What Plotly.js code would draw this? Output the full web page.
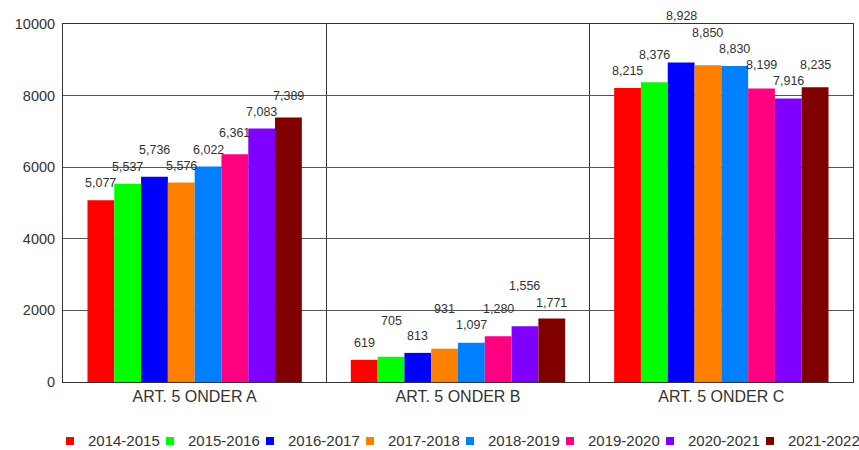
<!DOCTYPE html>
<html>
<head>
<meta charset="utf-8">
<script src="https://cdn.plot.ly/plotly-3.0.1.min.js"></script>
<style>html,body{margin:0;padding:0;background:#fff;}#chart{width:859px;height:450px;}</style>
</head>
<body>
<div id="chart"></div>
<script>
const categories = ["ART. 5 ONDER A", "ART. 5 ONDER B", "ART. 5 ONDER C"];
const seriesNames = ["2014-2015", "2015-2016", "2016-2017", "2017-2018", "2018-2019", "2019-2020", "2020-2021", "2021-2022"];
const s2014 = [5077, 619, 8215];
const s2015 = [5537, 705, 8376];
const s2016 = [5736, 813, 8928];
const s2017 = [5576, 931, 8850];
const s2018 = [6022, 1097, 8830];
const s2019 = [6361, 1280, 8199];
const s2020 = [7083, 1556, 7916];
const s2021 = [7389, 1771, 8235];
const seriesValues = [s2014, s2015, s2016, s2017, s2018, s2019, s2020, s2021];
const yTicks = [0, 2000, 4000, 6000, 8000, 10000];

// ---- styling (not data) ----
const colors = ["#FF0000", "#00FF00", "#0000FF", "#FF8000", "#0080FF", "#FF0080", "#8000FF", "#800000"];
// label vertical offsets (px above bar top), per series, per category
const labelShift = [
  [17, 17, 17],
  [17, 36, 27],
  [27, 17, 46],
  [16, 40, 32],
  [16, 18, 17],
  [21, 27, 23],
  [16, 40, 18],
  [21, 16, 22]
];
const W = 859, H = 450;
const M = { l: 63, r: 6, t: 24, b: 68 };
const plotW = W - M.l - M.r, plotH = H - M.t - M.b;
const FONT = "Liberation Sans, Arial, Helvetica, sans-serif";

const traces = seriesValues.map((vals, i) => ({
  type: "bar",
  name: seriesNames[i],
  x: categories,
  y: vals,
  marker: { color: colors[i], line: { width: 0 } },
  hoverinfo: "x+y+name"
}));

const nS = seriesNames.length;
const bargap = 0.186;
const annotations = [];
const shapes = [];
seriesValues.forEach((vals, i) => {
  vals.forEach((v, j) => {
    const groupW = 1 - bargap;
    const off = -groupW / 2 + groupW / nS * (i + 0.5);
    annotations.push({
      x: j + off, y: v, xref: "x", yref: "y",
      text: v.toLocaleString("en-US"),
      showarrow: false,
      yanchor: "middle",
      yshift: labelShift[i][j],
      font: { family: FONT, size: 12.5, color: "#333" }
    });
  });
});

// custom legend (row under the chart)
const legX0 = 66, legPitch = 100, legY = 441, sq = 8;
const px2x = p => (p - M.l) / plotW;
const py2y = p => (H - M.b - p) / plotH;
seriesNames.forEach((name, i) => {
  const sx = legX0 + i * legPitch;
  shapes.push({
    type: "rect", xref: "paper", yref: "paper",
    x0: px2x(sx), x1: px2x(sx + sq),
    y0: py2y(legY + sq / 2), y1: py2y(legY - sq / 2),
    fillcolor: colors[i], line: { width: 0 }
  });
  annotations.push({
    xref: "paper", yref: "paper",
    x: px2x(sx + 20), y: py2y(legY),
    xanchor: "left", yanchor: "middle",
    text: name, showarrow: false,
    font: { family: FONT, size: 15, color: "#333" }
  });
});

const layout = {
  width: W, height: H,
  margin: M,
  paper_bgcolor: "#fff", plot_bgcolor: "#fff",
  font: { family: FONT, size: 13, color: "#333" },
  barmode: "group",
  bargap: bargap,
  bargroupgap: 0,
  showlegend: false,
  xaxis: {
    type: "category",
    tickson: "boundaries",
    showgrid: true, gridcolor: "#333", gridwidth: 1,
    ticks: "", ticklen: 0,
    showline: true, mirror: true, linecolor: "#333", linewidth: 1,
    tickfont: { family: FONT, size: 16, color: "#333" },
    fixedrange: true
  },
  yaxis: {
    range: [0, 10000],
    tickvals: yTicks,
    ticktext: yTicks.map(String),
    showgrid: true, gridcolor: "#555", gridwidth: 1,
    zeroline: false,
    showline: true, mirror: true, linecolor: "#333", linewidth: 1,
    ticks: "",
    ticklabelstandoff: 4,
    tickfont: { family: FONT, size: 14.5, color: "#333" },
    fixedrange: true
  },
  annotations: annotations,
  shapes: shapes
};

Plotly.newPlot("chart", traces, layout, { displayModeBar: false, staticPlot: true });
</script>
</body>
</html>
